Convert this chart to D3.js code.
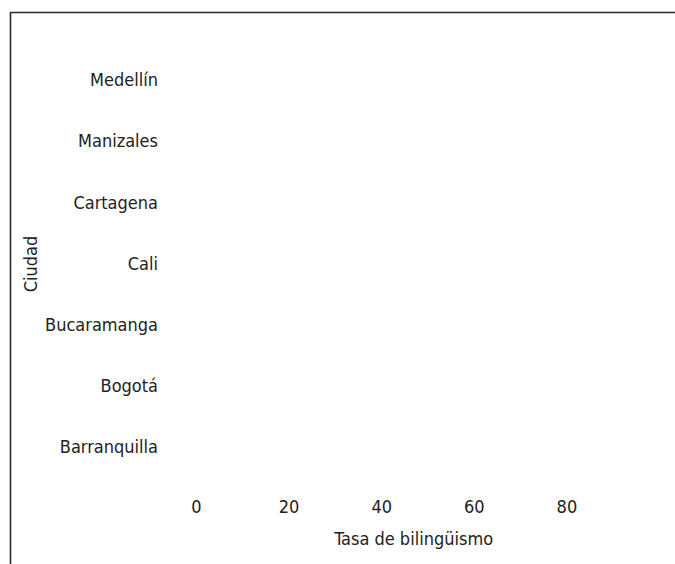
<!DOCTYPE html>
<html>
<head>
<meta charset="utf-8">
<script src="https://cdn.jsdelivr.net/npm/d3@7"></script>
<style>
  html, body { margin: 0; padding: 0; background: #fff; }
  svg text { font-family: "Liberation Sans Narrow", "DejaVu Sans Condensed", "Roboto", sans-serif; fill: #222; }
</style>
</head>
<body>
<svg id="chart" width="675" height="564"></svg>
<script>
// Categories (bottom to top as drawn)
const categories = ["Barranquilla", "Bogotá", "Bucaramanga", "Cali", "Cartagena", "Manizales", "Medellín"];
// Tick values of the x axis
const xTicks = [0, 20, 40, 60, 80];
// Axis titles
const xTitle = "Tasa de bilingüismo";
const yTitle = "Ciudad";
// Series values: the reference draws no bars (no data visible)
const values = [null, null, null, null, null, null, null];

const svg = d3.select("#chart");
const FS = 18;

// frame (top and left border)
svg.append("line").attr("x1", 10).attr("x2", 675).attr("y1", 12.5).attr("y2", 12.5)
  .attr("stroke", "#2a2a2a").attr("stroke-width", 1.6);
svg.append("line").attr("x1", 10.5).attr("x2", 10.5).attr("y1", 12).attr("y2", 564)
  .attr("stroke", "#2a2a2a").attr("stroke-width", 1.6);

const x = d3.scaleLinear().domain([0, 100]).range([196, 659]);
const y = d3.scaleBand().domain(categories).range([478, 50]);

// bars (none visible in the reference)
svg.append("g").selectAll("rect")
  .data(categories.map((c, i) => ({c, v: values[i]})).filter(d => d.v != null))
  .join("rect")
  .attr("x", x(0)).attr("y", d => y(d.c) + y.bandwidth() * 0.1)
  .attr("width", d => x(d.v) - x(0)).attr("height", y.bandwidth() * 0.8)
  .attr("fill", "#555");

// y axis
const yAxis = svg.append("g").attr("transform", "translate(166,0)")
  .call(d3.axisLeft(y).tickSize(0).tickPadding(8));
yAxis.select(".domain").remove();
yAxis.selectAll("text").attr("font-size", FS).attr("fill", "#222");

// x axis
const xAxis = svg.append("g").attr("transform", "translate(0,500)")
  .call(d3.axisBottom(x).tickValues(xTicks).tickSize(0).tickPadding(0));
xAxis.select(".domain").remove();
xAxis.selectAll("text").attr("font-size", FS).attr("fill", "#222");

// axis titles
svg.append("text").attr("x", x(47)).attr("y", 545).attr("text-anchor", "middle")
  .attr("font-size", FS).text(xTitle);
svg.append("text").attr("transform", `translate(37,${y("Cali") + y.bandwidth()/2}) rotate(-90)`)
  .attr("text-anchor", "middle").attr("font-size", FS).text(yTitle);
</script>
</body>
</html>
